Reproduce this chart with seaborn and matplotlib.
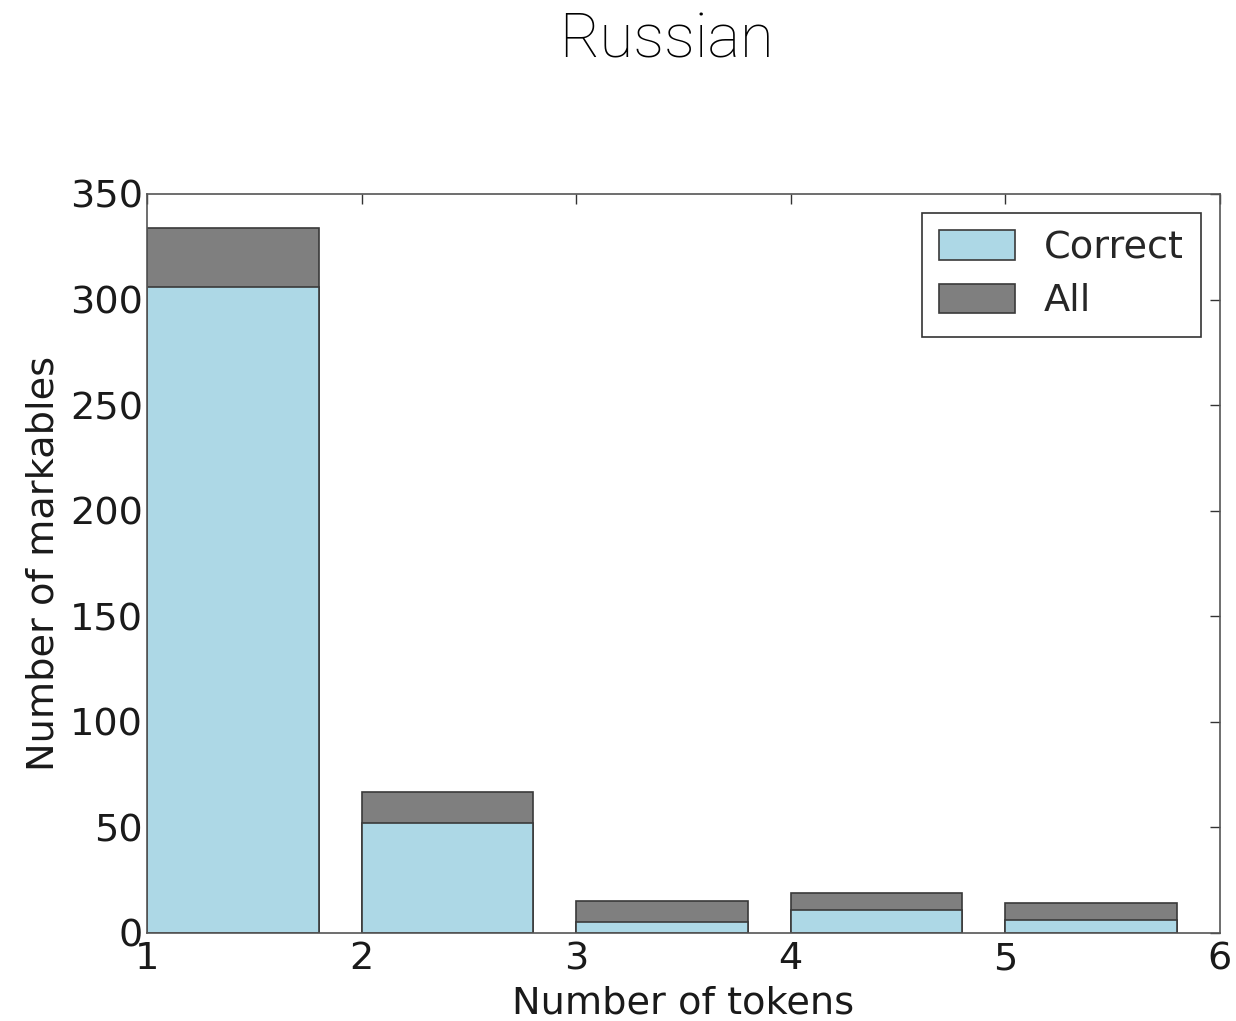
import numpy as np
import pandas as pd
import matplotlib
matplotlib.use("Agg")
import matplotlib.pyplot as plt
import seaborn as sns
from matplotlib.patches import Patch

tokens = [1, 2, 3, 4, 5]
correct = [306, 52, 5, 11, 6]
all_counts = [334, 67, 15, 19, 14]

bar_width = 0.8
df = pd.DataFrame({
    "tokens": tokens,
    "center": [t + bar_width / 2 for t in tokens],
    "Correct": correct,
    "All": all_counts,
})

sns.set_style("white")
plt.rcParams["font.family"] = ["DejaVu Sans"]

fig = plt.figure(figsize=(12.36, 10.21), dpi=100)
ax = fig.add_axes([0.119, 0.0862, 0.868, 0.7238])

edge = "#3a3a3a"
sns.barplot(data=df, x="center", y="All", native_scale=True, width=bar_width,
            color="#7f7f7f", saturation=1, edgecolor=edge, linewidth=1.2, ax=ax)
sns.barplot(data=df, x="center", y="Correct", native_scale=True, width=bar_width,
            color="#add8e6", saturation=1, edgecolor=edge, linewidth=1.2, ax=ax)

fs = 27.5
ax.set_xlim(1, 6)
ax.set_ylim(0, 350)
ax.set_xticks([1, 2, 3, 4, 5, 6])
ax.set_xticklabels(["1", "2", "3", "4", "5", "6"])
ax.set_yticks(range(0, 351, 50))
ax.tick_params(axis="both", direction="in", length=7, width=1, colors="#333333",
               labelsize=fs, top=True, right=True, labelcolor="#1a1a1a")
ax.tick_params(axis="x", pad=6)
ax.tick_params(axis="y", pad=3)
for s in ax.spines.values():
    s.set_color("#555555")
    s.set_linewidth(1.2)

ax.set_xlabel("Number of tokens", fontsize=fs, color="#1a1a1a", labelpad=6)
ax.set_ylabel("Number of markables", fontsize=fs, color="#1a1a1a", labelpad=6)

handles = [Patch(facecolor="#add8e6", edgecolor=edge, linewidth=1.2, label="Correct"),
           Patch(facecolor="#7f7f7f", edgecolor=edge, linewidth=1.2, label="All")]
leg = ax.legend(handles=handles, loc="upper right", fontsize=fs, fancybox=False,
                frameon=True, edgecolor="#333333", framealpha=1,
                handlelength=2.0, handleheight=0.8, borderpad=0.45,
                labelspacing=0.45, handletextpad=0.75, borderaxespad=0.5)
leg.get_frame().set_linewidth(1.2)

fig.text(0.539, 0.960, "Russian", ha="center", va="center", fontsize=44.5,
         family=["Roboto", "DejaVu Sans"], fontweight="light", color="#000000")

fig.savefig("out.png", dpi=100, facecolor="white")
